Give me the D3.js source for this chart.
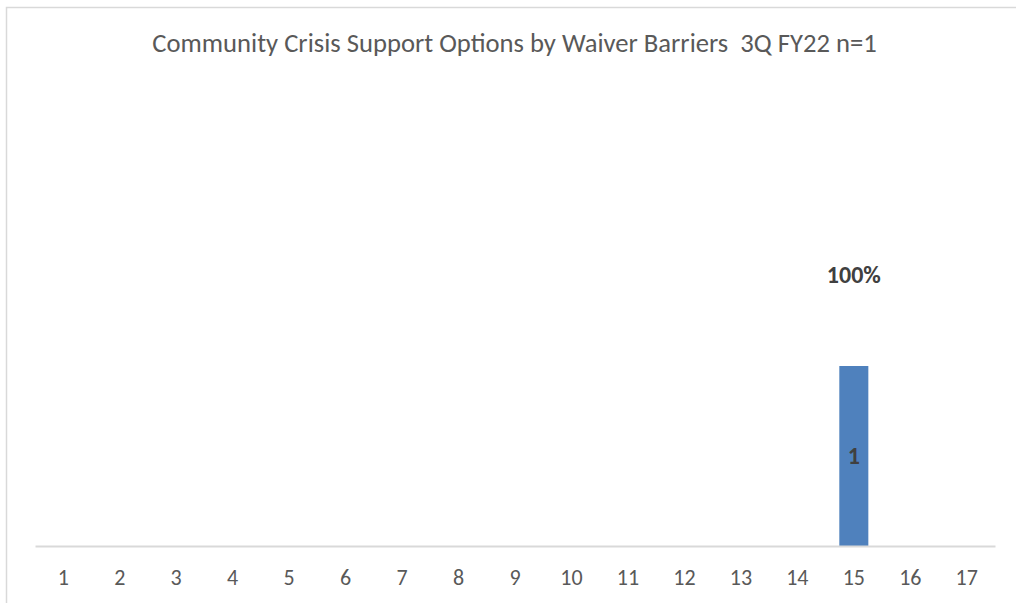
<!DOCTYPE html>
<html><head><meta charset="utf-8">
<script src="https://cdn.jsdelivr.net/npm/d3@7"></script>
<style>body{margin:0;background:#fff}svg{display:block}</style>
</head><body>
<script>
const categories = ["1","2","3","4","5","6","7","8","9","10","11","12","13","14","15","16","17"];
const counts = [0,0,0,0,0,0,0,0,0,0,0,0,0,0,1,0,0];
const percents = [null,null,null,null,null,null,null,null,null,null,null,null,null,null,1.0,null,null];
const titleText = "Community Crisis Support Options by Waiver Barriers  3Q FY22 n=1";

const W = 1016, H = 603;
const svg = d3.select("body").append("svg").attr("width", W).attr("height", H);
const font = "Carlito, Calibri, 'Open Sans', 'Noto Sans', sans-serif";

// chart border
svg.append("rect").attr("x", 6.5).attr("y", 7.5).attr("width", 1040).attr("height", 640)
  .attr("fill", "none").attr("stroke", "#d9d9d9").attr("stroke-width", 1.5);

const m = {left: 35, right: 995, top: 96, bottom: 546};
const x = d3.scaleBand().domain(categories).range([m.left, m.right]).paddingInner(0.486).paddingOuter(0.243);
const y = d3.scaleLinear().domain([0, 2.5]).range([m.bottom, m.top]);
const y2 = d3.scaleLinear().domain([0, 1.75]).range([m.bottom, m.top]);
const xc = d3.scaleBand().domain(categories).range([m.left, m.right]);

// title
const t = svg.append("text").attr("x", 514.5).attr("y", 52).attr("text-anchor", "middle")
  .style("white-space", "pre")
  .attr("font-family", font).attr("font-size", 20).attr("fill", "#595959").text(titleText);
const tw = t.node().getComputedTextLength();
t.attr("font-size", 20 * 725 / tw);

const rows = counts.map((c, i) => ({cat: categories[i], count: c, pct: percents[i]}));

// bars
svg.selectAll("rect.bar").data(rows).join("rect").attr("class", "bar")
  .attr("x", d => x(d.cat))
  .attr("width", x.bandwidth())
  .attr("y", d => y(d.count))
  .attr("height", d => y(0) - y(d.count))
  .attr("fill", "#4f81bd");

// baseline axis
const ax = d3.axisBottom(xc).tickSize(0);
const g = svg.append("g").attr("transform", `translate(0,${m.bottom})`).call(ax);
g.select(".domain").attr("stroke", "#d9d9d9").attr("stroke-width", 2);
g.selectAll("text").attr("y", 39).attr("dy", 0)
  .attr("font-family", font).attr("font-size", 22).attr("fill", "#595959");

// count labels
svg.selectAll("text.cnt").data(rows.filter(d => d.count > 0)).join("text").attr("class", "cnt")
  .attr("x", d => xc(d.cat) + xc.bandwidth() / 2)
  .attr("y", d => (y(d.count) + y(0)) / 2 + 8)
  .attr("text-anchor", "middle").attr("font-family", font).attr("font-weight", "bold")
  .attr("font-size", 24).attr("fill", "#404040").text(d => d.count);

// percent labels
svg.selectAll("text.pct").data(rows.filter(d => d.pct != null)).join("text").attr("class", "pct")
  .attr("x", d => xc(d.cat) + xc.bandwidth() / 2)
  .attr("y", d => y2(d.pct) - 6)
  .attr("text-anchor", "middle").attr("font-family", font).attr("font-weight", "bold")
  .attr("font-size", 24).attr("fill", "#404040").text(d => d3.format(".0%")(d.pct));
</script>
</body></html>
